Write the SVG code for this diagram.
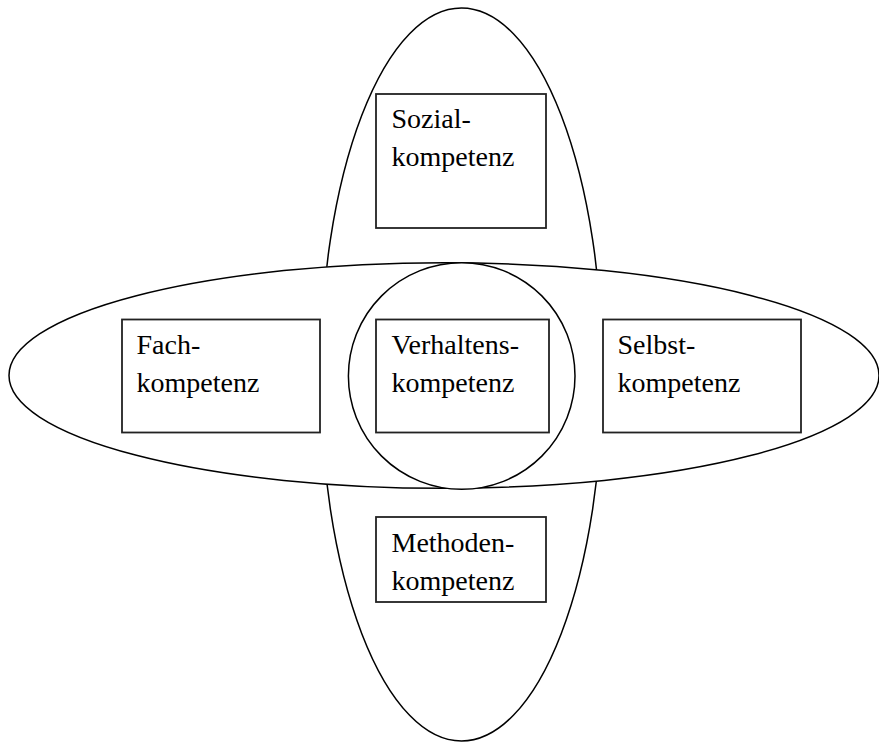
<svg xmlns="http://www.w3.org/2000/svg" width="879" height="743" viewBox="0 0 879 743">
<style>
.shape{fill:#fff;stroke:#000;stroke-width:1.5}
.box{fill:#fff;stroke:#222;stroke-width:1.8}
.lbl{font-family:"Liberation Serif","Times New Roman",serif;font-size:28px;fill:#000}
</style>
<rect width="879" height="743" fill="#fff"/>
<g id="vertical-ellipse"><ellipse class="shape" cx="461.5" cy="374.5" rx="141" ry="366.5"/></g>
<g id="horizontal-ellipse"><ellipse class="shape" cx="444" cy="375.5" rx="435" ry="112.8"/></g>
<g id="circle"><circle class="shape" cx="461.7" cy="376" r="113.3"/></g>
<g id="connectors"/>
<g id="sozial">
<rect class="box" x="376" y="94" width="170" height="134"/>
<text class="lbl" x="391.5" y="128">Sozial-</text>
<text class="lbl" x="391.5" y="166">kompetenz</text>
</g>
<g id="fach">
<rect class="box" x="122" y="319.5" width="198" height="113"/>
<text class="lbl" x="136.5" y="353.5">Fach-</text>
<text class="lbl" x="136.5" y="391.5">kompetenz</text>
</g>
<g id="verhaltens">
<rect class="box" x="376" y="319.5" width="173" height="113"/>
<text class="lbl" x="391.5" y="353.5">Verhaltens-</text>
<text class="lbl" x="391.5" y="391.5">kompetenz</text>
</g>
<g id="selbst">
<rect class="box" x="603" y="319.5" width="198" height="113"/>
<text class="lbl" x="617.5" y="353.5">Selbst-</text>
<text class="lbl" x="617.5" y="391.5">kompetenz</text>
</g>
<g id="methoden">
<rect class="box" x="376" y="517" width="170" height="85"/>
<text class="lbl" x="391.5" y="551.5">Methoden-</text>
<text class="lbl" x="391.5" y="590">kompetenz</text>
</g>
</svg>
